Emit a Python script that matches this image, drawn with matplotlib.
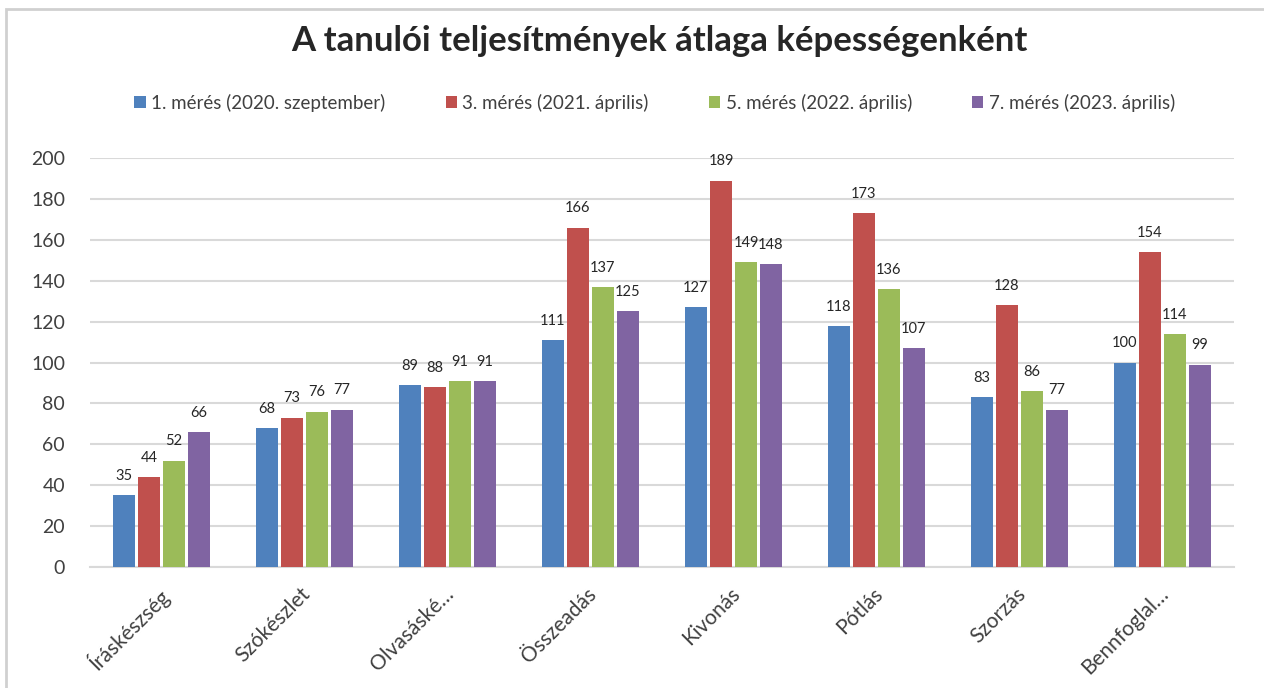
import matplotlib
matplotlib.use("Agg")
import matplotlib.pyplot as plt
import matplotlib.transforms as mtransforms
import numpy as np
from matplotlib.patches import Rectangle

categories = ["Íráskészség", "Szókészlet", "Olvasáské…", "Összeadás",
              "Kivonás", "Pótlás", "Szorzás", "Bennfoglal…"]
series_names = ["1. mérés (2020. szeptember)", "3. mérés (2021. április)",
                "5. mérés (2022. április)", "7. mérés (2023. április)"]
meres1 = [35, 68, 89, 111, 127, 118, 83, 100]
meres3 = [44, 73, 88, 166, 189, 173, 128, 154]
meres5 = [52, 76, 91, 137, 149, 136, 86, 114]
meres7 = [66, 77, 91, 125, 148, 107, 77, 99]
colors = ["#4F81BD", "#C0504D", "#9BBB59", "#8064A2"]

plt.rcParams["font.family"] = ["Lato", "DejaVu Sans"]

fig = plt.figure(figsize=(12.64, 6.88), dpi=100)
ax = fig.add_axes([0.0712, 0.176, 0.905, 0.594])

x = np.arange(len(categories))
step = 0.175
width = 0.155
for i, (vals, name, c) in enumerate(zip([meres1, meres3, meres5, meres7], series_names, colors)):
    pos = x + (i - 1.5) * step
    ax.bar(pos, vals, width, color=c, label=name, zorder=3)
    for xp, v in zip(pos, vals):
        ax.text(xp, v + 6, str(v), ha="center", va="bottom", fontsize=10.5, color="#262626")

ax.set_xlim(-0.5, len(categories) - 0.5)
ax.set_ylim(0, 200)
ax.set_yticks(range(0, 201, 20))
ax.yaxis.grid(True, color="#d9d9d9", linewidth=1.5, zorder=0)
ax.set_axisbelow(True)
for s in ["top", "right", "left"]:
    ax.spines[s].set_visible(False)
ax.spines["bottom"].set_color("#d9d9d9")
ax.spines["bottom"].set_linewidth(1.5)
ax.tick_params(axis="both", length=0, labelsize=14, colors="#404040")
ax.tick_params(axis="y", pad=18)
ax.set_xticks(x)
ax.set_xticklabels(categories, rotation=45, ha="right", rotation_mode="anchor", fontsize=15)
offset = mtransforms.ScaledTranslation(-4 / 100, -12 / 100, fig.dpi_scale_trans)
for lbl in ax.get_xticklabels():
    lbl.set_transform(lbl.get_transform() + offset)

fig.text(0.522, 0.94, "A tanulói teljesítmények átlaga képességenként",
         ha="center", va="center", fontsize=25, fontweight="bold", color="#262626")

fig.legend(loc="center", bbox_to_anchor=(0.518, 0.851), ncol=4, frameon=False,
           fontsize=13.5, handlelength=0.6, handleheight=0.6, handletextpad=0.3,
           columnspacing=3.2, labelcolor="#404040")

fig.patches.append(Rectangle((6 / 1264, -0.05), 1.2, 1 - 9 / 688 + 0.05, transform=fig.transFigure,
                             fill=False, edgecolor="#d0d0d0", linewidth=2))

fig.savefig("out.png", dpi=100)
